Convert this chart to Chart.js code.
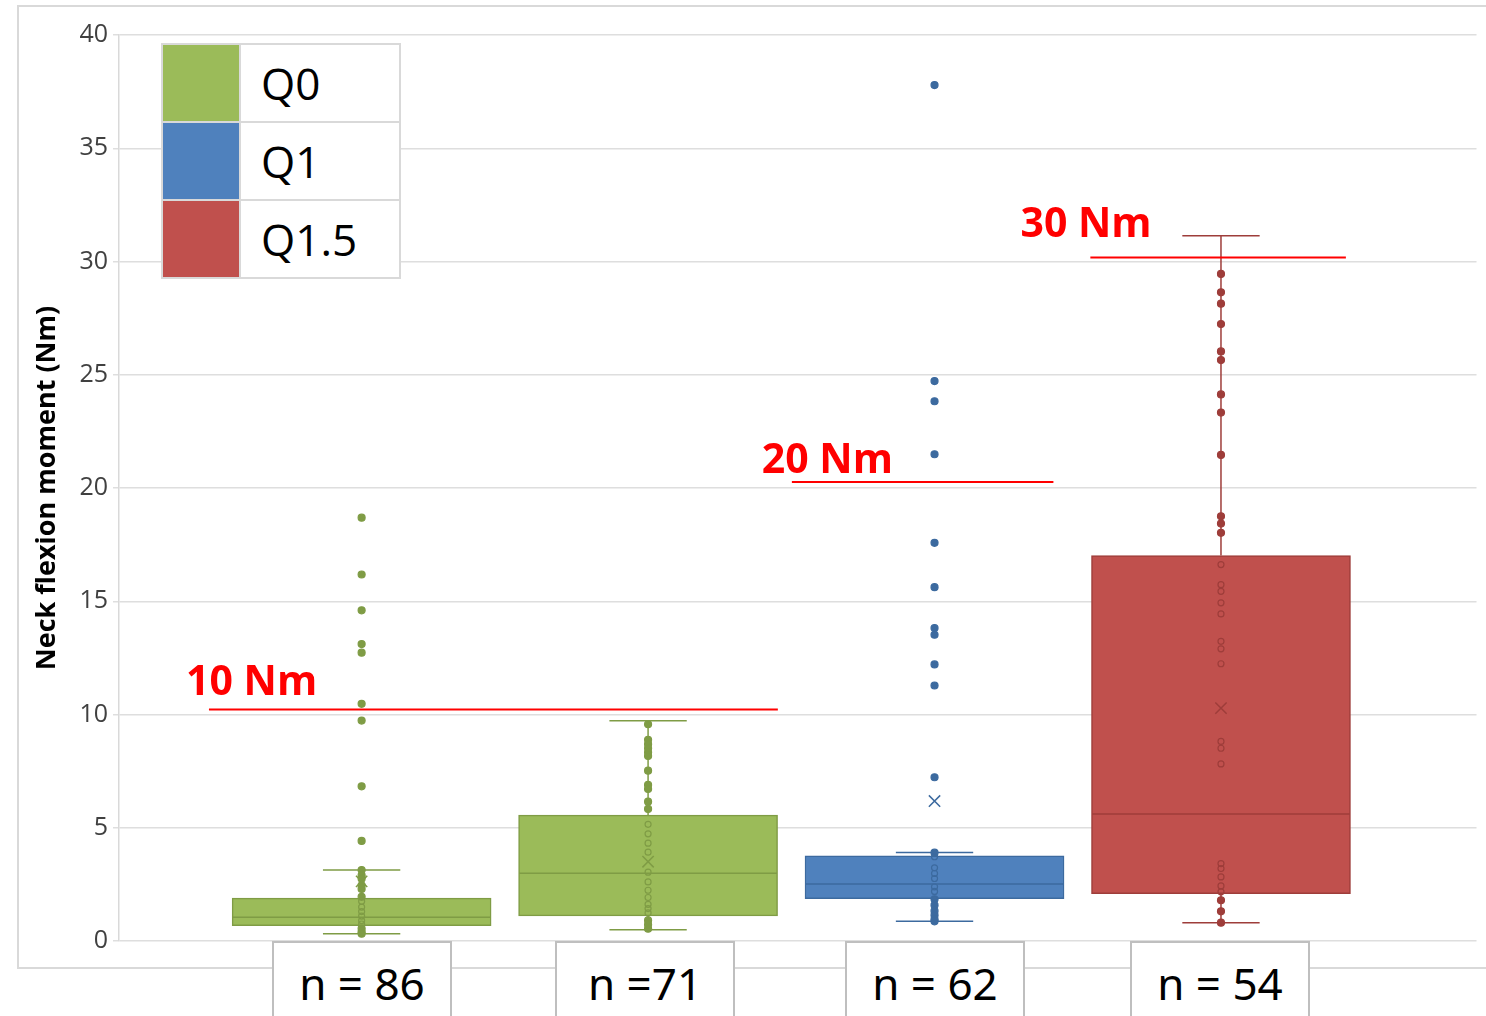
<!DOCTYPE html>
<html>
<head>
<meta charset="utf-8">
<script src="https://cdn.jsdelivr.net/npm/chart.js@4.4.1/dist/chart.umd.min.js"></script>
<style>
  body { margin: 0; background: #fff; overflow: hidden; font-family: 'Open Sans', 'Noto Sans', sans-serif; }
  #wrap { position: relative; width: 1486px; height: 1016px; }
  #frame { position: absolute; left: 17px; top: 5px; width: 1500px; height: 960px; border: 2px solid #d9d9d9; }
  #chart { position: absolute; left: 0; top: 0; }
  #legend { position: absolute; left: 161px; top: 43px; border-collapse: collapse; background: #fff; }
  #legend td { border: 2px solid #d9d9d9; height: 76px; padding: 0; font-size: 44px; color: #000; }
  #legend td.sw { width: 76px; }
  #legend td.lb { width: 138px; padding-left: 20px; }
  .nbox { position: absolute; top: 941px; width: 176px; height: 100px; border: 2px solid #bfbfbf; background: #fff;
          text-align: center; line-height: 80px; font-size: 44px; color: #000; font-family: 'Noto Sans', sans-serif; }
</style>
</head>
<body>
<div id="wrap">
  <div id="frame"></div>
  <canvas id="chart" width="1486" height="1016"></canvas>
  <table id="legend"></table>
</div>
<script>
// groups (left to right) and their summary stats
const groupLegend = ['Q0', 'Q1', 'Q1.5'];
const legendColors = ['#9BBB59', '#4F81BD', '#C0504D'];
const groupColors = ['#9BBB59', '#9BBB59', '#4F81BD', '#C0504D'];
const groupEdges = ['#7f9c45', '#7f9c45', '#3c6a9f', '#9e3d3a'];
const groupN = ['n = 86', 'n =71', 'n = 62', 'n = 54'];

const q1s = [0.68, 1.11, 1.87, 2.09];
const medians = [1.05, 2.99, 2.52, 5.61];
const q3s = [1.89, 5.56, 3.76, 17.02];
const whiskerLow = [0.32, 0.50, 0.87, 0.81];
const whiskerHigh = [3.13, 9.72, 3.91, 31.14];
const means = [2.63, 3.50, 6.18, 10.28];

const pointsQ0a = [18.69, 16.18, 14.6, 13.11, 12.73, 10.47, 9.73, 6.83, 4.42, 3.13, 2.9, 2.75, 2.46, 2.3, 1.95,
                   1.75, 1.5, 1.3, 1.1, 0.9, 0.75, 0.55, 0.4, 0.32];
const pointsQ0b = [9.57, 8.88, 8.69, 8.51, 8.33, 8.17, 7.52, 6.89, 6.71, 6.15, 5.83, 5.15, 4.73, 4.32, 3.92, 3.04,
                   2.61, 2.24, 1.92, 1.62, 1.43, 1.24, 0.91, 0.72, 0.54];
const pointsQ1 = [37.79, 24.72, 23.83, 21.49, 17.58, 15.62, 13.82, 13.52, 12.21, 11.28, 7.23, 3.9, 3.72, 3.23, 2.98,
                  2.76, 2.39, 2.19, 1.84, 1.58, 1.33, 1.14, 0.96, 0.87];
const pointsQ15 = [29.45, 28.64, 28.14, 27.24, 26.03, 25.65, 24.13, 23.33, 21.46, 18.75, 18.43, 18.02, 16.62, 15.73,
                   15.44, 14.93, 14.44, 13.23, 12.9, 12.24, 8.81, 8.51, 7.82, 3.42, 3.2, 2.83, 2.43, 2.17, 1.8, 1.31, 0.81];
const groupPoints = [pointsQ0a, pointsQ0b, pointsQ1, pointsQ15];

const thresholdLabels = ['10 Nm', '20 Nm', '30 Nm'];
const thresholdValues = [10.22, 20.27, 30.18];

const yTicksMax = 40;

// layout bits for the annotations (x in category units, text baseline in y units)
const thresholdLayout = [
    { x0: -0.533, x1: 1.453, tx: -0.613, ty: 10.88 },
    { x0: 1.502, x1: 2.415, tx: 1.397, ty: 20.66 },
    { x0: 2.544, x1: 3.436, tx: 2.300, ty: 31.10 }
];

// legend + n boxes as html
document.getElementById('legend').innerHTML = groupLegend.map((g, i) =>
    `<tr><td class="sw" style="background:${legendColors[i]}"></td><td class="lb">${g}</td></tr>`).join('');
const nLeft = [272, 555, 845, 1130];
groupN.forEach((t, i) => {
    const d = document.createElement('div');
    d.className = 'nbox';
    d.style.left = nLeft[i] + 'px';
    d.textContent = t;
    document.getElementById('wrap').appendChild(d);
});

const CAP = 0.135, HALF = 0.45;

const whiskerSets = groupColors.map((c, i) => {
    const data = [
        { x: i - CAP, y: whiskerHigh[i] }, { x: i + CAP, y: whiskerHigh[i] }, { x: i, y: null },
        { x: i, y: whiskerHigh[i] }, { x: i, y: q3s[i] }, { x: i, y: null },
        { x: i, y: q1s[i] }, { x: i, y: whiskerLow[i] }, { x: i, y: null },
        { x: i - CAP, y: whiskerLow[i] }, { x: i + CAP, y: whiskerLow[i] }, { x: i, y: null },
        { x: i - HALF, y: medians[i] }, { x: i + HALF, y: medians[i] }
    ];
    return { type: 'line', data, borderColor: groupEdges[i], borderWidth: 1.5, pointRadius: 0, spanGaps: false, order: 5 };
});

const pointSets = groupPoints.map((pts, i) => ({
    type: 'scatter',
    data: pts.map(v => ({ x: i, y: v })),
    pointRadius: ctx => { const v = pts[ctx.dataIndex]; return (v > q1s[i] && v < q3s[i]) ? 3 : 3.5; },
    pointBackgroundColor: ctx => { const v = pts[ctx.dataIndex]; return (v > q1s[i] && v < q3s[i]) ? 'rgba(0,0,0,0)' : groupEdges[i]; },
    pointBorderColor: groupEdges[i],
    pointBorderWidth: 1.2,
    order: 1
}));

const meanSet = {
    type: 'scatter',
    data: means.map((m, i) => ({ x: i, y: m })),
    pointStyle: 'crossRot',
    pointRadius: 8,
    pointBorderColor: groupEdges,
    pointBorderWidth: 1.5,
    order: 0
};

const thresholdPlugin = {
    id: 'thresholds',
    afterDatasetsDraw(chart) {
        const { ctx, scales: { x, y } } = chart;
        ctx.save();
        thresholdValues.forEach((v, i) => {
            const L = thresholdLayout[i];
            ctx.strokeStyle = '#ff0000';
            ctx.lineWidth = 2;
            ctx.beginPath();
            ctx.moveTo(x.getPixelForValue(L.x0), y.getPixelForValue(v));
            ctx.lineTo(x.getPixelForValue(L.x1), y.getPixelForValue(v));
            ctx.stroke();
            ctx.fillStyle = '#ff0000';
            ctx.font = "bold 41px 'Open Sans', sans-serif";
            ctx.textBaseline = 'alphabetic';
            ctx.fillText(thresholdLabels[i], x.getPixelForValue(L.tx), y.getPixelForValue(L.ty));
        });
        ctx.restore();
    }
};

new Chart(document.getElementById('chart').getContext('2d'), {
    type: 'bar',
    data: {
        datasets: [
            {
                type: 'bar',
                data: q1s.map((q, i) => ({ x: i, y: [q, q3s[i]] })),
                backgroundColor: groupColors,
                borderColor: groupEdges,
                borderWidth: 1.5,
                borderSkipped: false,
                barThickness: 259,
                order: 10
            },
            ...whiskerSets,
            ...pointSets,
            meanSet
        ]
    },
    options: {
        responsive: false,
        devicePixelRatio: 1,
        animation: false,
        layout: { padding: { top: 35, right: 8, bottom: 75, left: 0 } },
        scales: {
            x: { type: 'linear', min: -0.847, max: 3.892, offset: false, display: false },
            y: {
                min: 0, max: yTicksMax,
                ticks: { stepSize: 5, color: '#404040', padding: 5, font: { size: 25, family: "'Open Sans', sans-serif" } },
                grid: { color: '#dedede', lineWidth: 1.5, tickLength: 6 },
                border: { color: '#d9d9d9', width: 1.5 },
                title: {
                    display: true, text: 'Neck flexion moment (Nm)', color: '#000',
                    font: { size: 27, weight: 'bold', family: "'Open Sans', sans-serif" },
                    padding: { top: 31, bottom: 0 }
                },
                afterFit: s => { s.width = 119; }
            }
        },
        plugins: { legend: { display: false }, tooltip: { enabled: false } }
    },
    plugins: [thresholdPlugin]
});
</script>
</body>
</html>
